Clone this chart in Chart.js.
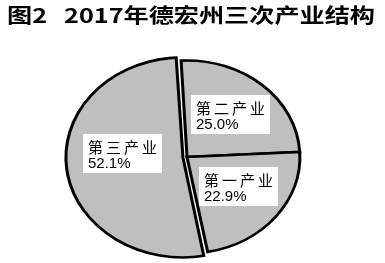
<!DOCTYPE html>
<html>
<head>
<meta charset="utf-8">
<script src="https://cdn.jsdelivr.net/npm/chart.js@4"></script>
<style>
  html, body { margin: 0; padding: 0; background: #fff; }
  #wrap { width: 385px; height: 263px; }
</style>
</head>
<body>
<div id="wrap"><canvas id="pie" width="385" height="263"></canvas></div>
<script>
// data
const titleText = '图2   2017年德宏州三次产业结构';
const categories = ['第二产业', '第一产业', '第三产业'];
const shares = [25.0, 22.9, 52.1];
const shareLabels = ['25.0%', '22.9%', '52.1%'];

// the original pie is an ellipse: stretch it sideways
const stretchX = 1.17;
// small nudges for the label boxes (pixels)
const labelNudge = [[0, -1], [0, -5], [1, -10]];

const titlePlugin = {
  id: 'titleDraw',
  afterDraw(chart) {
    const ctx = chart.ctx;
    ctx.save();
    ctx.font = 'bold 20px "Noto Sans CJK SC", sans-serif';
    ctx.fillStyle = '#000';
    ctx.textBaseline = 'middle';
    ctx.textAlign = 'center';
    const w = ctx.measureText(titleText).width;
    ctx.translate(191, 15);
    ctx.scale(368 / w, 1);
    ctx.fillText(titleText, 0, 0);
    ctx.restore();
  }
};

const stretchPlugin = {
  id: 'stretch',
  beforeDatasetsDraw(chart) {
    const arc = chart.getDatasetMeta(0).data[0];
    const ctx = chart.ctx;
    ctx.save();
    ctx.translate(arc.x, 0);
    ctx.scale(stretchX, 1);
    ctx.translate(-arc.x, 0);
  },
  afterDatasetsDraw(chart) {
    chart.ctx.restore();
  }
};

const labelPlugin = {
  id: 'boxLabels',
  afterDatasetsDraw(chart) {
    const ctx = chart.ctx;
    chart.getDatasetMeta(0).data.forEach((arc, i) => {
      const mid = (arc.startAngle + arc.endAngle) / 2;
      const r = arc.outerRadius * 0.58;
      const x = arc.x + Math.cos(mid) * r * stretchX + labelNudge[i][0];
      const y = arc.y + Math.sin(mid) * r + labelNudge[i][1];
      const bw = 79, bh = 39;
      const left = Math.round(x - bw / 2), top = Math.round(y - bh / 2);
      ctx.save();
      ctx.fillStyle = '#fff';
      ctx.fillRect(left, top, bw, bh);
      ctx.fillStyle = '#000';
      ctx.textBaseline = 'middle';
      ctx.textAlign = 'left';
      ctx.font = '15px "Noto Sans CJK SC", sans-serif';
      ctx.letterSpacing = '3px';
      ctx.fillText(categories[i], left + 5, top + 13);
      ctx.letterSpacing = '0px';
      ctx.font = '15px "Liberation Sans", sans-serif';
      ctx.fillText(shareLabels[i], left + 5, top + 30);
      ctx.restore();
    });
  }
};

new Chart(document.getElementById('pie'), {
  type: 'pie',
  data: {
    labels: categories,
    datasets: [{
      data: shares,
      backgroundColor: '#bfbfbf',
      borderColor: '#000',
      borderWidth: 2.6,
      borderJoinStyle: 'miter',
      offset: [0, 0, 14]
    }]
  },
  options: {
    responsive: false,
    animation: false,
    events: [],
    rotation: -3,
    radius: 96.5,
    layout: { padding: { top: 51, right: 11, bottom: 0, left: 0 } },
    plugins: {
      legend: { display: false },
      tooltip: { enabled: false },
      title: { display: false }
    }
  },
  plugins: [stretchPlugin, labelPlugin, titlePlugin]
});
</script>
</body>
</html>
